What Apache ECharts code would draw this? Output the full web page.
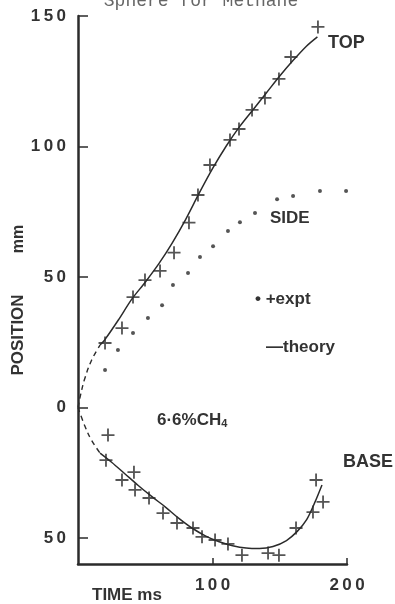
<!DOCTYPE html>
<html>
<head>
<meta charset="utf-8">
<script src="https://cdn.jsdelivr.net/npm/echarts@6/dist/echarts.min.js"></script>
<style>
html,body{margin:0;padding:0;background:#fff;}
#c{width:395px;height:604px;}
</style>
</head>
<body>
<div id="c"></div>
<script>
// ---- data (time ms, position mm; base positions negative = downward) ----
var xTicks = [100, 200];
var yTicks = [-50, 0, 50, 100, 150];

var topExpt = [[20.1,24.7],[32.7,30.4],[40.9,42.3],[49.8,48.8],[61.0,52.3],[71.4,59.3],[82.5,70.8],[89.2,81.4],[98.1,92.9],[113.0,102.5],[119.7,106.7],[129.4,114.0],[139.0,118.6],[149.4,125.9],[158.3,134.3],[178.4,145.8]];
var sideExpt = [[20.1,14.3],[29.7,22.0],[40.9,28.5],[52.0,34.3],[62.5,39.2],[70.6,46.9],[81.8,51.5],[90.7,57.6],[100.4,61.8],[111.5,67.6],[120.4,71.0],[131.6,74.5],[148.0,79.8],[159.9,81.0],[179.9,82.9],[199.3,82.9]];
var baseExpt = [[22.3,-10.6],[20.8,-20.2],[41.6,-24.8],[32.7,-27.8],[42.4,-31.6],[52.8,-34.7],[63.2,-40.5],[73.6,-44.3],[85.5,-46.2],[92.2,-49.6],[101.9,-50.8],[111.5,-52.3],[121.9,-56.6],[141.3,-55.8],[149.4,-56.6],[162.1,-46.2],[174.7,-40.1],[182.2,-36.2],[177.0,-27.8]];

var topTheoryDashed = [[0,0],[2,5],[5,11],[10,18],[16.4,23.9]];
var topTheory = [[16.4,23.9],[20,26],[30,33.5],[40,41.5],[50,48],[60,55],[70,63],[80,72],[90,82],[100,91.5],[110,100],[120,107.5],[130,114],[140,120.5],[150,127],[160,133],[170,138.5],[178,142]];
var baseTheoryDashed = [[0,0],[5,-7],[10,-12.5],[16.4,-17.5]];
var baseTheory = [[16.4,-17.5],[25,-21],[35,-25.5],[45,-30],[55,-34.2],[65,-38.2],[75,-42.5],[85,-46.3],[95,-49.3],[105,-51.5],[115,-53],[125,-53.9],[135,-54.1],[145,-53.3],[155,-51],[163,-47.5],[170,-43],[176,-36.5],[181.4,-29.7]];

var ink = '#2b2b2b';
var txt = '#333';
var plus = 'path://M4.3,0H5.7V4.3H10V5.7H5.7V10H4.3V5.7H0V4.3H4.3Z';
function spaced(s){ return String(s).split('').join('\u2009'); }

var chart = echarts.init(document.getElementById('c'), null, {renderer:'canvas'});
chart.setOption({
  animation: false,
  backgroundColor: '#fff',
  grid: {left: 78, right: 48, top: 16, bottom: 40, containLabel: false},
  xAxis: {
    type: 'value', min: 0, max: 200,
    splitLine: {show: false},
    axisLine: {onZero: false, lineStyle: {color: ink, width: 2.5}},
    axisTick: {inside: true, length: 6, customValues: xTicks, lineStyle: {color: ink, width: 1.5}},
    axisLabel: {customValues: xTicks, margin: 13, color: txt, fontSize: 17, fontWeight: 'bold', fontFamily: 'Liberation Sans',
      formatter: function(v){ return spaced(v); }}
  },
  yAxis: {
    type: 'value', min: -60, max: 150,
    splitLine: {show: false},
    axisLine: {lineStyle: {color: ink, width: 2.5}},
    axisTick: {inside: true, length: 10, customValues: yTicks, lineStyle: {color: ink, width: 1.5}},
    axisLabel: {customValues: yTicks, margin: 12, color: txt, fontSize: 17, fontWeight: 'bold', fontFamily: 'Liberation Sans',
      formatter: function(v){ return spaced(Math.abs(v)); }}
  },
  series: [
    {type:'line', data: topTheoryDashed, smooth: 0.4, showSymbol:false, silent:true,
     lineStyle:{color: ink, width: 1.4, type:[5,4]}},
    {type:'line', data: topTheory, smooth: 0.3, showSymbol:false, silent:true,
     lineStyle:{color: ink, width: 1.5}},
    {type:'line', data: baseTheoryDashed, smooth: 0.4, showSymbol:false, silent:true,
     lineStyle:{color: ink, width: 1.4, type:[5,4]}},
    {type:'line', data: baseTheory, smooth: 0.3, showSymbol:false, silent:true,
     lineStyle:{color: ink, width: 1.5}},
    {type:'scatter', data: topExpt, symbol: plus, symbolSize: 13, itemStyle:{color: ink}},
    {type:'scatter', data: baseExpt, symbol: plus, symbolSize: 13, itemStyle:{color: ink}},
    {type:'scatter', data: sideExpt, symbol: 'circle', symbolSize: 4, itemStyle:{color: ink}}
  ],
  graphic: [
    {type:'text', x: 201, y: 1, style:{text:'Sphere for Methane', fill:'#666', font:'18px "Liberation Mono"', textAlign:'center', textVerticalAlign:'middle'}},
    {type:'text', x: 328, y: 43, style:{text:'TOP', fill: txt, font:'bold 18px "Liberation Sans"', textAlign:'left', textVerticalAlign:'middle'}},
    {type:'text', x: 270, y: 218, style:{text:'SIDE', fill: txt, font:'bold 17px "Liberation Sans"', textAlign:'left', textVerticalAlign:'middle'}},
    {type:'text', x: 255, y: 299, style:{text:'\u2022 +expt', fill: txt, font:'bold 17px "Liberation Sans"', textAlign:'left', textVerticalAlign:'middle'}},
    {type:'text', x: 266, y: 347, style:{text:'\u2014theory', fill: txt, font:'bold 17px "Liberation Sans"', textAlign:'left', textVerticalAlign:'middle'}},
    {type:'text', x: 157, y: 420, style:{text:'6\u00b76%CH{sub|4}', fill: txt, font:'bold 17px "Liberation Sans"', textAlign:'left', textVerticalAlign:'middle',
      rich:{sub:{fontSize: 11, fontWeight:'bold', fontFamily:'Liberation Sans', fill: txt, verticalAlign:'bottom', padding:[7,0,0,0]}}}},
    {type:'text', x: 343, y: 462, style:{text:'BASE', fill: txt, font:'bold 18px "Liberation Sans"', textAlign:'left', textVerticalAlign:'middle'}},
    {type:'text', x: 92, y: 595, style:{text:'TIME ms', fill: txt, font:'bold 17px "Liberation Sans"', textAlign:'left', textVerticalAlign:'middle'}},
    {type:'text', x: 18, y: 335, rotation: Math.PI/2, style:{text:'POSITION', fill: txt, font:'bold 17px "Liberation Sans"', textAlign:'center', textVerticalAlign:'middle'}},
    {type:'text', x: 19, y: 239, rotation: Math.PI/2, style:{text:'mm', fill: txt, font:'bold 16px "Liberation Sans"', textAlign:'center', textVerticalAlign:'middle'}}
  ]
});
</script>
</body>
</html>
